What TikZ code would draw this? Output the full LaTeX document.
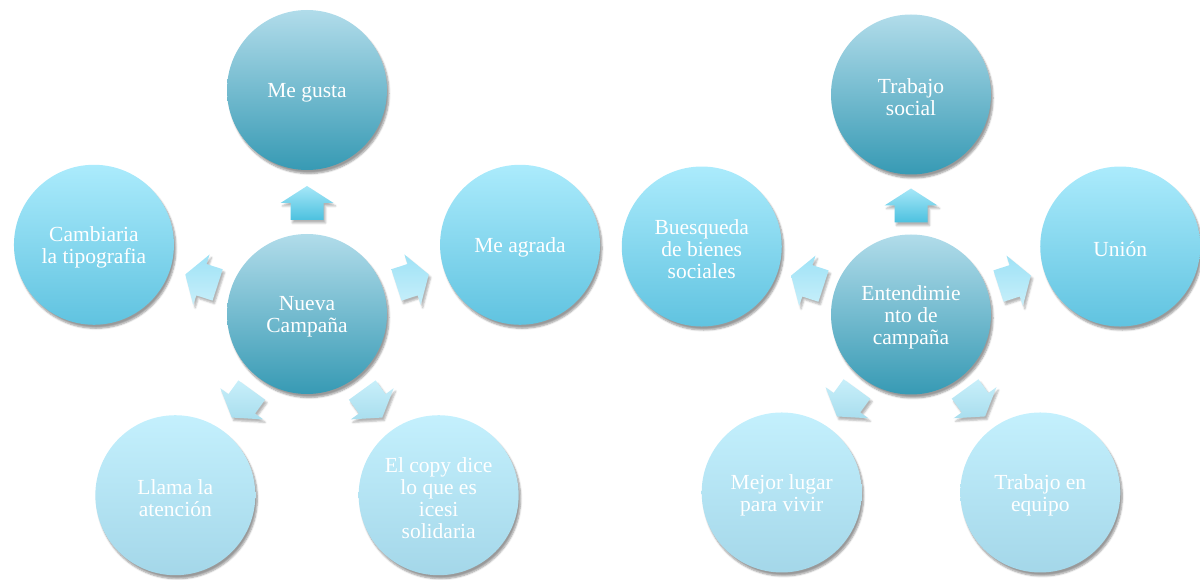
\documentclass[tikz,border=0pt]{standalone}
\usepackage{fontspec}
\setmainfont{Liberation Serif}
\usetikzlibrary{calc,shadows.blur}
\definecolor{dkT}{HTML}{B1DCEA}
\definecolor{dkB}{HTML}{379AB4}
\definecolor{mdT}{HTML}{ABEBFC}
\definecolor{mdB}{HTML}{60C3E0}
\definecolor{ltT}{HTML}{C4F0FD}
\definecolor{ltB}{HTML}{A4D7E9}
\definecolor{auT}{HTML}{A6E7F8}
\definecolor{auB}{HTML}{4CC1DF}
\definecolor{asT}{HTML}{9EE2F6}
\definecolor{asB}{HTML}{C8EFFA}
\definecolor{alT}{HTML}{C8EFFA}
\definecolor{alB}{HTML}{A9DEEE}
\tikzset{
  txt/.style={text=white, align=center, font=\fontsize{21.5}{22}\selectfont, yshift=-2.5pt, inner sep=0pt},
  bub/.style={circle, minimum size=160pt, inner sep=0pt,
    blur shadow={shadow xshift=2pt, shadow yshift=-3.5pt, shadow blur steps=6, shadow opacity=40}},
  dark/.style={bub, top color=dkT, bottom color=dkB},
  mid/.style={bub, top color=mdT, bottom color=mdB},
  light/.style={bub, top color=ltT, bottom color=ltB},
  barrow/.style={blur shadow={shadow xshift=2pt, shadow yshift=-3pt, shadow blur steps=4, shadow opacity=30}}
}
\newcommand\blockarr[5]{%
  \path[barrow, top color=#4, bottom color=#5]
    ($(#1)+(#2:#3+17)$) -- ($(#1)+(#2:#3)+(#2+90:26.5)$) -- ($(#1)+(#2:#3)+(#2+90:16.5)$)
    -- ($(#1)+(#2:#3-17)+(#2+90:16.5)$) -- ($(#1)+(#2:#3-17)+(#2-90:16.5)$)
    -- ($(#1)+(#2:#3)+(#2-90:16.5)$) -- ($(#1)+(#2:#3)+(#2-90:26.5)$) -- cycle;}
\begin{document}
\begin{tikzpicture}[x=1pt,y=1pt]
\useasboundingbox (0,0) rectangle (1200,579);
% left cluster
\node[dark, label={[txt]center:{Nueva\\Campaña}}] (L) at (307,265) {};
\node[dark, label={[txt]center:{Me gusta}}]  (L1) at ($(L)+(90:224)$) {};
\node[mid, label={[txt]center:{Me agrada}}]   (L2) at ($(L)+(18:224)$) {};
\node[mid, label={[txt]center:{Cambiaria\\la tipografia}}]   (L5) at ($(L)+(162:224)$) {};
\node[light, label={[txt]center:{Llama la\\atención}}] (L4) at ($(L)+(234:224)$) {};
\node[light, label={[txt]center:{El copy dice\\lo que es\\icesi\\solidaria}}] (L3) at ($(L)+(306:224)$) {};
\blockarr{L}{90}{111}{auT}{auB}
\blockarr{L}{18}{111}{asT}{asB}
\blockarr{L}{162}{111}{asT}{asB}
\blockarr{L}{234}{111}{alT}{alB}
\blockarr{L}{306}{111}{alT}{alB}
% right cluster
\node[dark, label={[txt]center:{Entendimie\\nto de\\campaña}}] (R) at (911,264.5) {};
\node[dark, label={[txt]center:{Trabajo\\social}}]  (R1) at ($(R)+(90:220)$) {};
\node[mid, label={[txt]center:{Unión}}]   (R2) at ($(R)+(18:220)$) {};
\node[mid, label={[txt]center:{Buesqueda\\de bienes\\sociales}}]   (R5) at ($(R)+(162:220)$) {};
\node[light, label={[txt]center:{Mejor lugar\\para vivir}}] (R4) at ($(R)+(234:220)$) {};
\node[light, label={[txt]center:{Trabajo en\\equipo}}] (R3) at ($(R)+(306:220)$) {};
\blockarr{R}{90}{109}{auT}{auB}
\blockarr{R}{18}{109}{asT}{asB}
\blockarr{R}{162}{109}{asT}{asB}
\blockarr{R}{234}{109}{alT}{alB}
\blockarr{R}{306}{109}{alT}{alB}
\end{tikzpicture}
\end{document}
